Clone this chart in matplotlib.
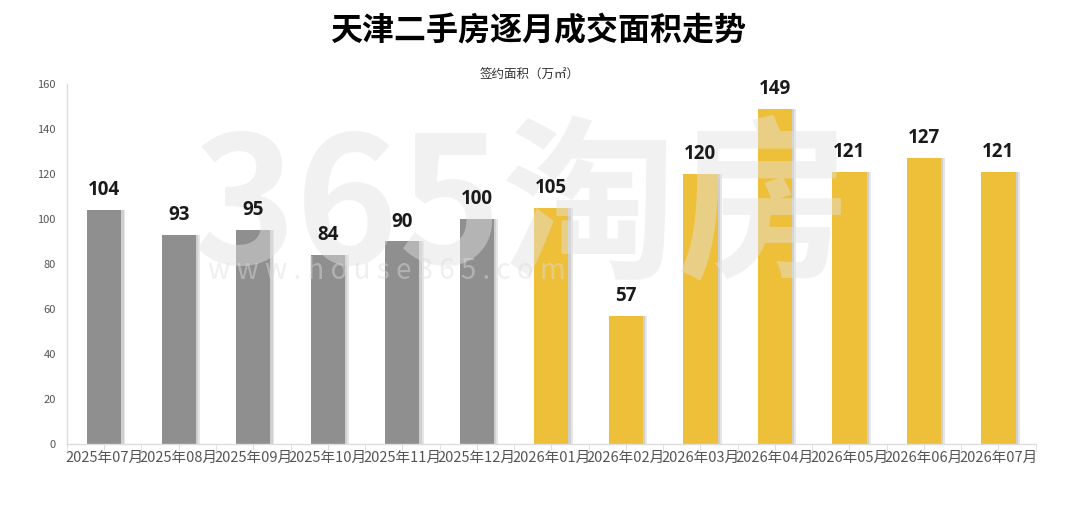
import matplotlib
matplotlib.use("Agg")
import matplotlib.pyplot as plt
import numpy as np

plt.rcParams["font.family"] = ["Noto Sans CJK SC", "DejaVu Sans"]

MONTHS = [
    "2025年07月", "2025年08月", "2025年09月", "2025年10月", "2025年11月",
    "2025年12月", "2026年01月", "2026年02月", "2026年03月", "2026年04月",
    "2026年05月", "2026年06月", "2026年07月",
]
AREA = [104, 93, 95, 84, 90, 100, 105, 57, 120, 149, 121, 127, 121]
IS_2026 = [m.startswith("2026") for m in MONTHS]

GRAY_COLOR = "#8f8f8f"
GOLD_COLOR = "#eec03a"
AXIS_COLOR = "#dddddd"
TEXT_COLOR = "#555555"

fig = plt.figure(figsize=(10.8, 5.11), dpi=100)
ax = fig.add_axes([0.062, 0.131, 0.897, 0.705])

x = np.arange(len(MONTHS))
colors = [GOLD_COLOR if flag else GRAY_COLOR for flag in IS_2026]
width = 0.46

# soft shadow on the right side of each bar
ax.bar(x + 0.055, AREA, width=width, color="#e6e6e6", zorder=1)
ax.bar(x + 0.03, AREA, width=width, color="#cfcfcf", zorder=1)
bars = ax.bar(x, AREA, width=width, color=colors, zorder=2)

# watermark (faint, over the bars)
ax.text(0.47, 0.645, "365淘房", transform=ax.transAxes, ha="center", va="center",
        fontsize=126, fontweight="bold", color="#e2e2e2", alpha=0.45, zorder=3)
ax.text(0.33, 0.48, "w w w . h o u s e 3 6 5 . c o m", transform=ax.transAxes,
        ha="center", va="center", fontsize=20, color="#dcdcdc", alpha=0.45, zorder=3)

for rect, val in zip(bars, AREA):
    ax.annotate(
        f"{val}",
        xy=(rect.get_x() + rect.get_width() / 2, rect.get_height()),
        xytext=(0, 7),
        textcoords="offset points",
        ha="center",
        va="bottom",
        fontsize=13.5,
        fontweight="bold",
        family=["Open Sans", "DejaVu Sans"],
        color="#1a1a1a",
        zorder=4,
    )

ax.set_xlim(-0.5, len(MONTHS) - 0.5)
ax.set_ylim(0, 160)
ax.set_yticks(np.arange(0, 161, 20))
ax.set_xticks(x)
ax.set_xticklabels(MONTHS, fontsize=10.5, color=TEXT_COLOR)
ax.set_xticks(np.arange(-0.5, len(MONTHS), 1.0), minor=True)
ax.tick_params(axis="x", which="major", length=4, color=AXIS_COLOR, pad=1)
ax.tick_params(axis="x", which="minor", length=6, color=AXIS_COLOR)
ax.tick_params(axis="y", length=0, labelsize=8, labelcolor=TEXT_COLOR, pad=8)

for side in ["top", "right"]:
    ax.spines[side].set_visible(False)
for side in ["left", "bottom"]:
    ax.spines[side].set_color(AXIS_COLOR)
    ax.spines[side].set_linewidth(1)

fig.text(0.498, 0.938, "天津二手房逐月成交面积走势", ha="center", va="center",
         fontsize=23, fontweight="bold", color="black")
fig.text(0.49, 0.852, "签约面积（万㎡）", ha="center", va="center",
         fontsize=9, color="#333333")

fig.savefig("out.png", dpi=100)
